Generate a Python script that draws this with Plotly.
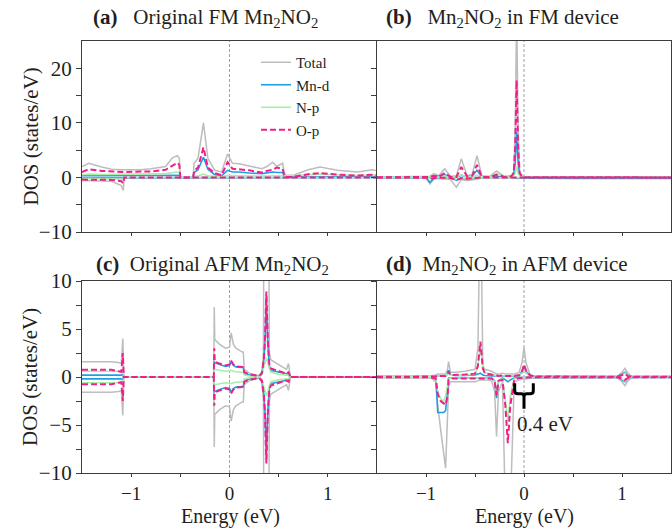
import plotly.graph_objects as go

# ---------------- data ----------------
# Panel (a) Original FM Mn2NO2
E_A = [-1.5, -1.43, -1.3, -1.2, -1.1, -1.08, -1.07, -0.9, -0.8, -0.65, -0.58, -0.53, -0.51, -0.5,
       -0.37, -0.36, -0.32, -0.265, -0.22, -0.15, -0.08, -0.02, 0.03, 0.1, 0.2, 0.33, 0.38, 0.44,
       0.48, 0.54, 0.555, 0.57, 0.65, 0.8, 0.92, 1.1, 1.3, 1.45, 1.5]
TOT_UP_A = [2.0, 2.6, 1.9, 1.5, 1.4, 1.4, 1.4, 1.4, 1.6, 2.0, 3.6, 4.0, 3.5, 0.0, 0.0, 2.6, 3.5, 10.0,
            3.5, 1.3, 1.0, 4.3, 2.6, 2.5, 2.1, 1.6, 2.0, 2.8, 2.0, 2.6, 1.0, 0.4, 0.4, 1.4, 1.9, 1.3,
            1.0, 1.4, 1.2]
TOT_DN_A = [-0.55, -0.6, -0.6, -0.7, -1.5, -2.4, 0.0, 0.0, 0.0, 0.0, 0.0, 0.0, 0.0, 0.0, 0.0, 0.0,
            0.0, 0.0, 0.0, 0.0, 0.0, 0.0, 0.0, 0.0, 0.0, 0.0, 0.0, 0.0, 0.0, 0.0, 0.0, 0.0, 0.0, 0.0,
            0.0, 0.0, 0.0, 0.0, 0.0]
MND_UP_A = [0.3, 0.35, 0.3, 0.3, 0.3, 0.3, 0.3, 0.3, 0.3, 0.35, 0.4, 0.4, 0.4, 0.0, 0.0, 0.9, 1.4,
            3.7, 1.5, 0.5, 0.3, 1.3, 1.0, 1.0, 0.8, 0.7, 0.8, 1.0, 0.9, 0.9, 0.3, 0.05, 0.05, 0.1,
            0.15, 0.1, 0.1, 0.1, 0.1]
MND_DN_A = [-0.1, -0.1, -0.1, -0.1, -0.1, -0.1, 0.0, 0.0, 0.0, 0.0, 0.0, 0.0, 0.0, 0.0, 0.0, 0.0,
            0.0, 0.0, 0.0, 0.0, 0.0, 0.0, 0.0, 0.0, 0.0, 0.0, 0.0, 0.0, 0.0, 0.0, 0.0, 0.0, 0.0, 0.0,
            0.0, 0.0, 0.0, 0.0, 0.0]
NP_UP_A = [0.5, 0.6, 0.55, 0.55, 0.55, 0.55, 0.55, 0.6, 0.65, 0.7, 0.9, 1.0, 0.9, 0.0, 0.0, 0.2,
           0.3, 0.6, 0.3, 0.15, 0.1, 0.4, 0.3, 0.3, 0.25, 0.2, 0.25, 0.3, 0.25, 0.3, 0.1, 0.3, 0.3,
           0.5, 0.6, 0.45, 0.35, 0.45, 0.4]
NP_DN_A = [-0.2, -0.2, -0.2, -0.2, -0.2, -0.3, 0.0, 0.0, 0.0, 0.0, 0.0, 0.0, 0.0, 0.0, 0.0, 0.0,
           0.0, 0.0, 0.0, 0.0, 0.0, 0.0, 0.0, 0.0, 0.0, 0.0, 0.0, 0.0, 0.0, 0.0, 0.0, 0.0, 0.0, 0.0,
           0.0, 0.0, 0.0, 0.0, 0.0]
OP_UP_A = [1.0, 1.5, 1.2, 1.05, 1.0, 1.0, 1.0, 1.0, 1.1, 1.4, 2.2, 2.7, 2.3, 0.0, 0.0, 1.2, 1.8,
           5.5, 1.8, 0.8, 0.4, 2.8, 1.6, 1.5, 1.3, 0.9, 1.2, 1.4, 1.8, 1.6, 0.5, 0.1, 0.1, 0.6, 0.8,
           0.5, 0.35, 0.5, 0.4]
OP_DN_A = [-0.4, -0.4, -0.4, -0.45, -0.7, -1.1, 0.0, 0.0, 0.0, 0.0, 0.0, 0.0, 0.0, 0.0, 0.0, 0.0,
           0.0, 0.0, 0.0, 0.0, 0.0, 0.0, 0.0, 0.0, 0.0, 0.0, 0.0, 0.0, 0.0, 0.0, 0.0, 0.0, 0.0, 0.0,
           0.0, 0.0, 0.0, 0.0, 0.0]

# Panel (b) Mn2NO2 in FM device
E_B = [-1.5, -1.1, -1.0, -0.96, -0.92, -0.87, -0.81, -0.75, -0.69, -0.64, -0.58, -0.53, -0.48,
       -0.43, -0.35, -0.28, -0.2, -0.13, -0.105, -0.09, -0.075, -0.06, -0.045, -0.02, 0.0, 0.5,
       1.0, 1.5]
TOT_UP_B = [0.1, 0.1, 0.2, 0.2, 0.7, 0.3, 1.6, 0.2, 0.3, 3.4, 0.3, 0.5, 4.0, 0.3, 0.2, 1.2, 0.2,
            0.3, 1.0, 9.0, 30.0, 9.0, 1.0, 0.3, 0.1, 0.05, 0.05, 0.05]
TOT_DN_B = [-0.05, -0.05, -0.1, -1.2, -0.3, -0.2, -0.3, -0.4, -1.8, -0.4, -0.6, -0.5, -0.3, -0.1,
            -0.05, -0.1, -0.05, -0.05, -0.1, -0.2, -0.2, -0.2, -0.1, -0.05, -0.05, -0.05, -0.05,
            -0.05]
MND_UP_B = [0.0, 0.0, 0.05, 0.0, 0.3, 0.2, 0.5, 0.1, 0.0, 0.4, 0.1, 0.2, 1.3, 0.1, 0.05, 0.2, 0.05,
            0.1, 0.5, 2.5, 8.3, 2.5, 0.5, 0.1, 0.0, 0.0, 0.0, 0.0]
MND_DN_B = [0.0, 0.0, -0.05, -0.9, -0.2, -0.1, -0.1, -0.1, -0.5, -0.2, -0.3, -0.2, -0.1, -0.05, 0.0,
            -0.05, 0.0, 0.0, -0.05, -0.1, -0.1, -0.1, -0.05, -0.1, -0.15, -0.2, -0.2, -0.2]
NP_UP_B = [0.02, 0.02, 0.05, 0.05, 0.15, 0.1, 0.3, 0.05, 0.1, 0.5, 0.1, 0.1, 0.4, 0.1, 0.1, 0.8,
           0.1, 0.1, 0.3, 0.8, 2.0, 0.8, 0.3, 0.1, 0.02, 0.02, 0.02, 0.02]
NP_DN_B = [-0.02, -0.02, -0.05, -0.2, -0.05, -0.05, -0.1, -0.1, -0.3, -0.1, -0.15, -0.1, -0.05,
           -0.02, -0.02, -0.05, -0.02, -0.02, -0.05, -0.05, -0.05, -0.05, -0.05, -0.02, -0.02,
           -0.02, -0.02, -0.02]
OP_UP_B = [0.0, 0.0, 0.1, 0.1, 0.3, 0.1, 0.8, 0.1, 0.1, 1.9, 0.2, 0.3, 2.3, 0.1, 0.1, 0.5, 0.1, 0.2,
           0.8, 5.5, 17.8, 5.5, 0.8, 0.2, 0.05, 0.0, 0.0, 0.0]
OP_DN_B = [0.0, 0.0, -0.05, -0.3, -0.1, -0.05, -0.1, -0.1, -0.5, -0.1, -0.2, -0.1, -0.05, 0.0, 0.0,
           0.0, 0.0, 0.0, 0.0, -0.05, -0.05, -0.05, 0.0, 0.0, 0.0, 0.0, 0.0, 0.0]

# Panel (c) Original AFM Mn2NO2
E_C = [-1.5, -1.2, -1.13, -1.1, -1.085, -1.075, -0.16, -0.155, -0.15, -0.1, -0.04, 0.0, 0.017,
       0.04, 0.065, 0.13, 0.14, 0.15, 0.2, 0.27, 0.3, 0.33, 0.345, 0.35, 0.36, 0.375, 0.39, 0.398,
       0.405, 0.42, 0.5, 0.58, 0.6, 0.61, 0.62, 1.5]
TOT_UP_C = [1.6, 1.6, 1.5, 1.4, 4.0, 0.0, 0.0, 7.3, 3.9, 3.4, 3.0, 3.1, 4.6, 3.4, 3.0, 2.6, 2.6,
            0.8, 0.4, 0.2, 0.1, 0.6, 2.5, 20.0, 20.0, 20.0, 20.0, 20.0, 2.5, 1.8, 1.3, 0.8, 1.4,
            0.3, 0.0, 0.0]
TOT_DN_C = [-1.6, -1.6, -1.5, -1.4, -4.0, 0.0, 0.0, -7.3, -3.9, -3.4, -3.0, -3.1, -4.6, -3.4, -3.0,
            -2.6, -2.6, -0.8, -0.4, -0.2, -0.1, -0.6, -2.5, -20.0, -20.0, -20.0, -20.0, -20.0, -2.5,
            -1.8, -1.3, -0.8, -1.4, -0.3, 0.0, 0.0]
MND_UP_C = [0.2, 0.2, 0.2, 0.2, 0.3, 0.0, 0.0, 1.6, 1.5, 1.3, 1.1, 1.2, 1.6, 1.2, 1.05, 1.0, 1.0,
            0.4, 0.2, 0.1, 0.05, 0.3, 1.2, 1.8, 3.5, 8.5, 3.5, 1.8, 1.2, 0.7, 0.5, 0.3, 0.3, 0.1,
            0.0, 0.0]
MND_DN_C = [-0.2, -0.2, -0.2, -0.2, -0.3, 0.0, 0.0, -1.6, -1.5, -1.3, -1.1, -1.2, -1.6, -1.2,
            -1.05, -1.0, -1.0, -0.4, -0.2, -0.1, -0.05, -0.3, -1.2, -1.8, -3.5, -8.5, -3.5, -1.8,
            -1.2, -0.7, -0.5, -0.3, -0.3, -0.1, 0.0, 0.0]
NP_UP_C = [0.6, 0.6, 0.6, 0.6, 0.8, 0.0, 0.0, 0.9, 0.8, 0.7, 0.6, 0.65, 0.7, 0.6, 0.55, 0.5, 0.5,
           0.2, 0.1, 0.05, 0.05, 0.3, 0.9, 1.1, 1.5, 2.0, 1.5, 1.1, 0.9, 0.5, 0.3, 0.2, 0.2, 0.05,
           0.0, 0.0]
NP_DN_C = [-0.6, -0.6, -0.6, -0.6, -0.8, 0.0, 0.0, -0.9, -0.8, -0.7, -0.6, -0.65, -0.7, -0.6,
           -0.55, -0.5, -0.5, -0.2, -0.1, -0.05, -0.05, -0.3, -0.9, -1.1, -1.5, -2.0, -1.5, -1.1,
           -0.9, -0.5, -0.3, -0.2, -0.2, -0.05, 0.0, 0.0]
OP_UP_C = [0.75, 0.75, 0.6, 0.55, 2.5, 0.0, 0.0, 3.0, 1.6, 1.4, 1.2, 1.3, 1.7, 1.3, 1.1, 1.05, 1.0,
           0.5, 0.3, 0.15, 0.1, 0.4, 1.3, 1.9, 3.6, 8.9, 3.6, 1.9, 1.3, 0.9, 0.6, 0.35, 0.5, 0.1,
           0.0, 0.0]
OP_DN_C = [-0.75, -0.75, -0.6, -0.55, -2.5, 0.0, 0.0, -3.0, -1.6, -1.4, -1.2, -1.3, -1.7, -1.3,
           -1.1, -1.05, -1.0, -0.5, -0.3, -0.15, -0.1, -0.4, -1.3, -1.9, -3.6, -9.0, -3.6, -1.9,
           -1.3, -0.9, -0.6, -0.35, -0.5, -0.1, 0.0, 0.0]

# Panel (d) Mn2NO2 in AFM device
E_D = [-1.5, -0.95, -0.9, -0.88, -0.85, -0.82, -0.8, -0.78, -0.77, -0.75, -0.7, -0.6, -0.5, -0.47,
       -0.445, -0.42, -0.4, -0.33, -0.3, -0.28, -0.26, -0.22, -0.19, -0.165, -0.14, -0.1, -0.05,
       -0.02, 0.0, 0.02, 0.06, 0.1, 0.95, 1.0, 1.03, 1.06, 1.1, 1.5]
TOT_UP_D = [0.1, 0.1, 0.2, 0.3, 0.3, 0.3, 0.3, 0.8, 1.6, 0.5, 0.5, 0.6, 0.8, 3.0, 20.0, 1.2, 0.8,
            0.6, 0.4, 0.3, 0.3, 0.4, 0.3, 0.3, 0.3, 0.3, 0.5, 1.5, 3.1, 1.5, 0.3, 0.1, 0.05, 0.5,
            0.9, 0.4, 0.05, 0.05]
TOT_DN_D = [-0.1, -0.1, -0.5, -3.0, -5.5, -8.0, -9.5, -4.0, -1.0, -0.5, -0.5, -0.5, -0.5, -0.4,
            -0.3, -0.3, -0.3, -0.4, -1.5, -6.2, -1.5, -0.5, -14.0, -14.0, -14.0, -0.5, -0.3, -0.2,
            -0.2, -0.2, -0.1, -0.1, -0.05, -0.5, -0.9, -0.4, -0.05, -0.05]
MND_UP_D = [0.0, 0.0, 0.05, 0.1, 0.1, 0.1, 0.1, 0.3, 0.7, 0.2, 0.15, 0.15, 0.2, 0.3, 0.4, 0.2, 0.15,
            0.1, 0.1, 0.05, 0.05, 0.05, 0.05, 0.05, 0.05, 0.05, 0.1, 0.6, 1.0, 0.6, 0.1, 0.05, 0.05,
            0.3, 0.5, 0.2, 0.05, 0.05]
MND_DN_D = [0.0, 0.0, -0.1, -3.7, -3.7, -3.7, -3.5, -1.0, -0.1, -0.1, -0.1, -0.1, -0.1, -0.1, -0.1,
            -0.1, -0.1, -0.1, -0.4, -2.2, -0.4, -0.1, -0.3, -0.5, -0.3, -0.1, -0.05, -0.05, -0.05,
            -0.05, -0.05, -0.05, -0.05, -0.3, -0.5, -0.2, -0.05, -0.05]
NP_UP_D = [0.02, 0.02, 0.05, 0.1, 0.1, 0.1, 0.1, 0.3, 0.4, 0.2, 0.2, 0.2, 0.3, 1.0, 3.5, 0.8, 0.4,
           0.3, 0.2, 0.1, 0.1, 0.1, 0.1, 0.1, 0.1, 0.1, 0.15, 0.4, 0.8, 0.4, 0.1, 0.02, 0.02, 0.2,
           0.4, 0.2, 0.02, 0.02]
NP_DN_D = [-0.02, -0.02, -0.2, -1.5, -2.3, -2.5, -2.0, -0.8, -0.2, -0.1, -0.1, -0.1, -0.1, -0.1,
           -0.1, -0.1, -0.1, -0.1, -0.5, -1.5, -0.4, -0.2, -2.5, -4.6, -2.0, -0.2, -0.1, -0.05,
           -0.05, -0.05, -0.02, -0.02, -0.02, -0.2, -0.4, -0.2, -0.02, -0.02]
OP_UP_D = [0.02, 0.02, 0.05, 0.1, 0.1, 0.1, 0.1, 0.3, 0.6, 0.2, 0.2, 0.25, 0.35, 1.2, 3.7, 0.9, 0.4,
           0.3, 0.2, 0.15, 0.1, 0.15, 0.1, 0.1, 0.1, 0.1, 0.2, 0.6, 1.3, 0.7, 0.2, 0.05, 0.02, 0.15,
           0.3, 0.1, 0.02, 0.02]
OP_DN_D = [-0.02, -0.02, -0.2, -1.8, -2.5, -2.8, -2.9, -2.0, -0.3, -0.15, -0.15, -0.15, -0.15,
           -0.1, -0.1, -0.1, -0.1, -0.15, -0.4, -1.9, -0.4, -0.3, -3.0, -6.9, -3.0, -0.3, -0.1,
           -0.05, -0.05, -0.05, -0.02, -0.02, -0.02, -0.15, -0.3, -0.1, -0.02, -0.02]

SERIES = ["Total", "Mn-d", "N-p", "O-p"]
X_TICKS = [-1, 0, 1]
X_TICKTEXT = ["\u22121", "0", "1"]
X_MINOR = [-0.5, 0.5]
Y_TICKS_TOP = [-10, 0, 10, 20]
Y_TICKTEXT_TOP = ["\u221210", "0", "10", "20"]
Y_MINOR_TOP = [-5, 5, 15]
Y_TICKS_BOT = [-10, -5, 0, 5, 10]
Y_TICKTEXT_BOT = ["\u221210", "\u22125", "0", "5", "10"]
Y_MINOR_BOT = [-7.5, -2.5, 2.5, 7.5]

# ---------------- styling ----------------
FONT = "Liberation Serif"
STYLE = {
    "Total": dict(color="#bdbdbd", width=1.5, dash="solid"),
    "Mn-d": dict(color="#1f9ee8", width=1.6, dash="solid"),
    "N-p": dict(color="#a8eea8", width=1.6, dash="solid"),
    "O-p": dict(color="#f0208a", width=2.0, dash="6px,3px"),
}
AX = "#3c3c3c"

panels = [
    ("x", "y", E_A, [(TOT_UP_A, TOT_DN_A), (MND_UP_A, MND_DN_A), (NP_UP_A, NP_DN_A), (OP_UP_A, OP_DN_A)]),
    ("x2", "y2", E_B, [(TOT_UP_B, TOT_DN_B), (MND_UP_B, MND_DN_B), (NP_UP_B, NP_DN_B), (OP_UP_B, OP_DN_B)]),
    ("x3", "y3", E_C, [(TOT_UP_C, TOT_DN_C), (MND_UP_C, MND_DN_C), (NP_UP_C, NP_DN_C), (OP_UP_C, OP_DN_C)]),
    ("x4", "y4", E_D, [(TOT_UP_D, TOT_DN_D), (MND_UP_D, MND_DN_D), (NP_UP_D, NP_DN_D), (OP_UP_D, OP_DN_D)]),
]

fig = go.Figure()
for pi, (xa, ya, E, ser) in enumerate(panels):
    for name, (up, dn) in zip(SERIES, ser):
        st = STYLE[name]
        for k, vals in enumerate((up, dn)):
            fig.add_trace(go.Scatter(
                x=E, y=vals, xaxis=xa, yaxis=ya, mode="lines", name=name,
                legendgroup=name, showlegend=(pi == 0 and k == 0),
                line=dict(color=st["color"], width=st["width"], dash=st["dash"]),
                hoverinfo="skip"))

W, H = 672, 529
ML, MR, MT, MB = 82, 1, 41, 56
PW, PH = W - ML - MR, H - MT - MB
xsplit = (377 - ML) / PW
ytop0 = (H - MB - 232) / PH
ybot1 = (H - MB - 281) / PH


def px_x(p):
    return (p - ML) / PW


def px_y(p):
    return (H - MB - p) / PH


common_x = dict(range=[-1.5, 1.5], tickmode="array", tickvals=X_TICKS, ticktext=X_TICKTEXT,
                ticks="outside", ticklen=3, tickwidth=1.2, tickcolor=AX,
                minor=dict(tickmode="array", tickvals=X_MINOR, ticks="outside", ticklen=3,
                           tickwidth=1.2, tickcolor=AX, showgrid=False),
                showline=True, linecolor=AX, linewidth=1.3,
                mirror=True, showgrid=False, zeroline=False,
                tickfont=dict(family=FONT, size=19, color="#231f20"))
common_y = dict(tickmode="array", ticks="outside", ticklen=5, tickwidth=1.2, tickcolor=AX,
                showline=True, linecolor=AX, linewidth=1.3, showgrid=False, zeroline=False,
                tickfont=dict(family=FONT, size=21, color="#231f20"))
minor_top = dict(tickmode="array", tickvals=Y_MINOR_TOP, ticks="outside", ticklen=5, tickwidth=1.2,
                 tickcolor=AX, showgrid=False)
minor_bot = dict(tickmode="array", tickvals=Y_MINOR_BOT, ticks="outside", ticklen=5, tickwidth=1.2,
                 tickcolor=AX, showgrid=False)

fig.update_layout(
    width=W, height=H, margin=dict(l=ML, r=MR, t=MT, b=MB),
    paper_bgcolor="white", plot_bgcolor="white",
    font=dict(family=FONT, size=20, color="#231f20"),
    xaxis=dict(common_x, domain=[0, xsplit], anchor="y", showticklabels=False),
    xaxis2=dict(common_x, domain=[xsplit, 1], anchor="y2", showticklabels=False),
    xaxis3=dict(common_x, domain=[0, xsplit], anchor="y3"),
    xaxis4=dict(common_x, domain=[xsplit, 1], anchor="y4"),
    yaxis=dict(common_y, domain=[ytop0, 1], anchor="x", range=[-10, 25], mirror=False,
               tickvals=Y_TICKS_TOP, ticktext=Y_TICKTEXT_TOP, minor=minor_top),
    yaxis2=dict(common_y, domain=[ytop0, 1], anchor="x2", range=[-10, 25], mirror=True,
                tickvals=Y_TICKS_TOP, showticklabels=False, minor=minor_top),
    yaxis3=dict(common_y, domain=[0, ybot1], anchor="x3", range=[-10, 10], mirror=False,
                tickvals=Y_TICKS_BOT, ticktext=Y_TICKTEXT_BOT, minor=minor_bot),
    yaxis4=dict(common_y, domain=[0, ybot1], anchor="x4", range=[-10, 10], mirror=True,
                tickvals=Y_TICKS_BOT, showticklabels=False, minor=minor_bot),
    legend=dict(x=px_x(256), y=px_y(46), xanchor="left", yanchor="top",
                bgcolor="rgba(0,0,0,0)", font=dict(family=FONT, size=15, color="#231f20"),
                tracegroupgap=0),
    showlegend=True,
)

shapes = []
for xa, ya in (("x", "y"), ("x2", "y2"), ("x3", "y3"), ("x4", "y4")):
    shapes.append(dict(type="line", xref=xa, yref=ya + " domain", x0=0, x1=0, y0=0, y1=1,
                       line=dict(color="#a0a0a0", width=1, dash="3px,2px"), layer="below"))
# brace marking 0.4 eV in panel (d)
shapes.append(dict(type="path", xref="x4", yref="y4",
                   path=("M -0.095,-0.65 L -0.095,-1.45 Q -0.095,-1.75 -0.06,-1.75 L -0.03,-1.75 "
                         "Q 0,-1.75 0,-2.05 L 0,-3.3 M 0,-2.05 Q 0,-1.75 0.03,-1.75 L 0.06,-1.75 "
                         "Q 0.095,-1.75 0.095,-1.45 L 0.095,-0.65"),
                   line=dict(color="black", width=3)))
fig.update_layout(shapes=shapes)

NB = "\u00a0"
titles = [
    ("<b>(a)</b>" + NB * 3 + "Original FM Mn<sub>2</sub>NO<sub>2</sub>", 91, 18),
    ("<b>(b)</b>" + NB * 3 + "Mn<sub>2</sub>NO<sub>2</sub> in FM device", 384, 18),
    ("<b>(c)</b>" + NB * 2 + "Original AFM Mn<sub>2</sub>NO<sub>2</sub>", 94, 265),
    ("<b>(d)</b>" + NB * 2 + "Mn<sub>2</sub>NO<sub>2</sub> in AFM device", 384, 265),
]
ann = []
for txt, xp, yp in titles:
    ann.append(dict(text=txt, xref="paper", yref="paper", x=px_x(xp), y=px_y(yp), xanchor="left",
                    yanchor="middle", showarrow=False,
                    font=dict(family=FONT, size=21, color="#231f20")))
for yc in ((41 + 232) / 2, (281 + 473) / 2):
    ann.append(dict(text="DOS (states/eV)", xref="paper", yref="paper", x=px_x(30), y=px_y(yc),
                    xanchor="center", yanchor="middle", textangle=-90, showarrow=False,
                    font=dict(family=FONT, size=21, color="#231f20")))
for xc in (230, 524):
    ann.append(dict(text="Energy (eV)", xref="paper", yref="paper", x=px_x(xc), y=px_y(516.5),
                    xanchor="center", yanchor="middle", showarrow=False,
                    font=dict(family=FONT, size=20, color="#231f20")))
ann.append(dict(text="0.4 eV", xref="x4", yref="y4", x=0.215, y=-4.9, xanchor="center",
                yanchor="middle", showarrow=False, font=dict(family=FONT, size=21, color="#231f20")))
fig.update_layout(annotations=ann)

fig.write_html("out.html")
